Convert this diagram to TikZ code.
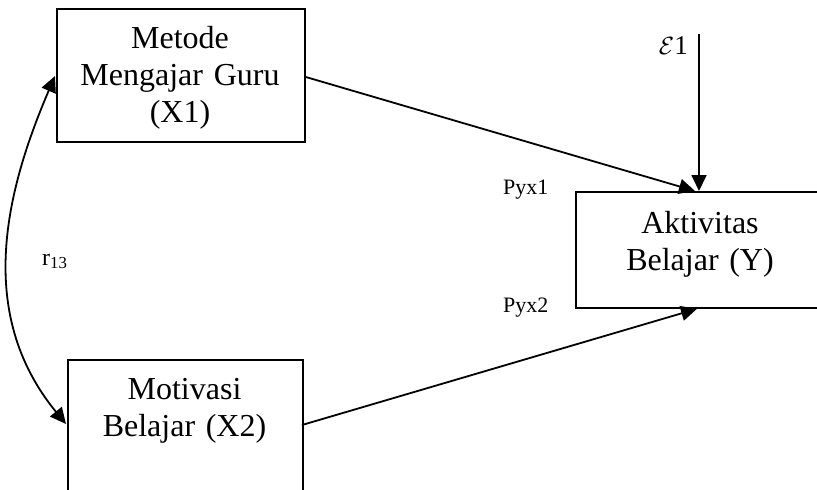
\documentclass[tikz,border=0pt]{standalone}
\usepackage{fontspec}
\setmainfont{Liberation Serif}
\usetikzlibrary{arrows.meta,calc}
\tikzset{
  box/.style={draw, line width=1.8pt, rectangle, inner sep=0pt},
  boxtext/.style={align=center, inner sep=0pt, text width=240pt, font=\fontsize{32}{37}\selectfont},
  lbl/.style={inner sep=0pt, font=\fontsize{22}{26}\selectfont},
  arr/.style={line width=1.8pt, -{Triangle[length=16pt,width=15pt]}},
  darr/.style={line width=1.8pt, {Triangle[length=16pt,width=15pt]}-{Triangle[length=16pt,width=15pt]}},
}
\begin{document}
\begin{tikzpicture}[x=1pt,y=-1pt]
\useasboundingbox (0,0) rectangle (817,490);
\clip (0,0) rectangle (817,490);
% boxes
\node[box, minimum width=248pt, minimum height=133pt, anchor=north west] (x1) at (56,8) {};
\node[boxtext, anchor=base] (x1t) at (180,48) {Metode\\Mengajar Guru\\(X1)};
\node[box, minimum width=235pt, minimum height=200pt, anchor=north west] (x2) at (67,359) {};
\node[boxtext, anchor=base] (x2t) at (184.5,399) {Motivasi\\Belajar (X2)};
\node[box, minimum width=250pt, minimum height=116pt, anchor=north west] (y) at (575,191) {};
\node[boxtext, anchor=base] (yt) at (700,233) {Aktivitas\\Belajar (Y)};
% error term
\coordinate (e) at (699,34);
\node[lbl, anchor=base east, font=\fontsize{27}{30}\selectfont] (el) at (688,54) {$\mathcal{E}$1};
% labels
\node[lbl, anchor=base west] (p1) at (503,194) {Pyx1};
\node[lbl, anchor=base west] (p2) at (503,312) {Pyx2};
\node[lbl, anchor=base west, font=\fontsize{24}{28}\selectfont] (r) at (42,265) {r\textsubscript{13}};
% connectors
\draw[arr] ($(x1.north east)+(0,69)$) -- ($(y.north west)+(120,0)$);
\draw[arr] (e) -- ($(y.north west)+(124,0)$);
\draw[arr] ($(x2.north west)+(235,66)$) -- ($(y.south west)+(122,0)$);
\draw[darr] ($(x1.north west)+(-1,68)$) .. controls (7,188) and (-26,312) .. ($(x2.north west)+(-1,65)$);
\end{tikzpicture}
\end{document}
